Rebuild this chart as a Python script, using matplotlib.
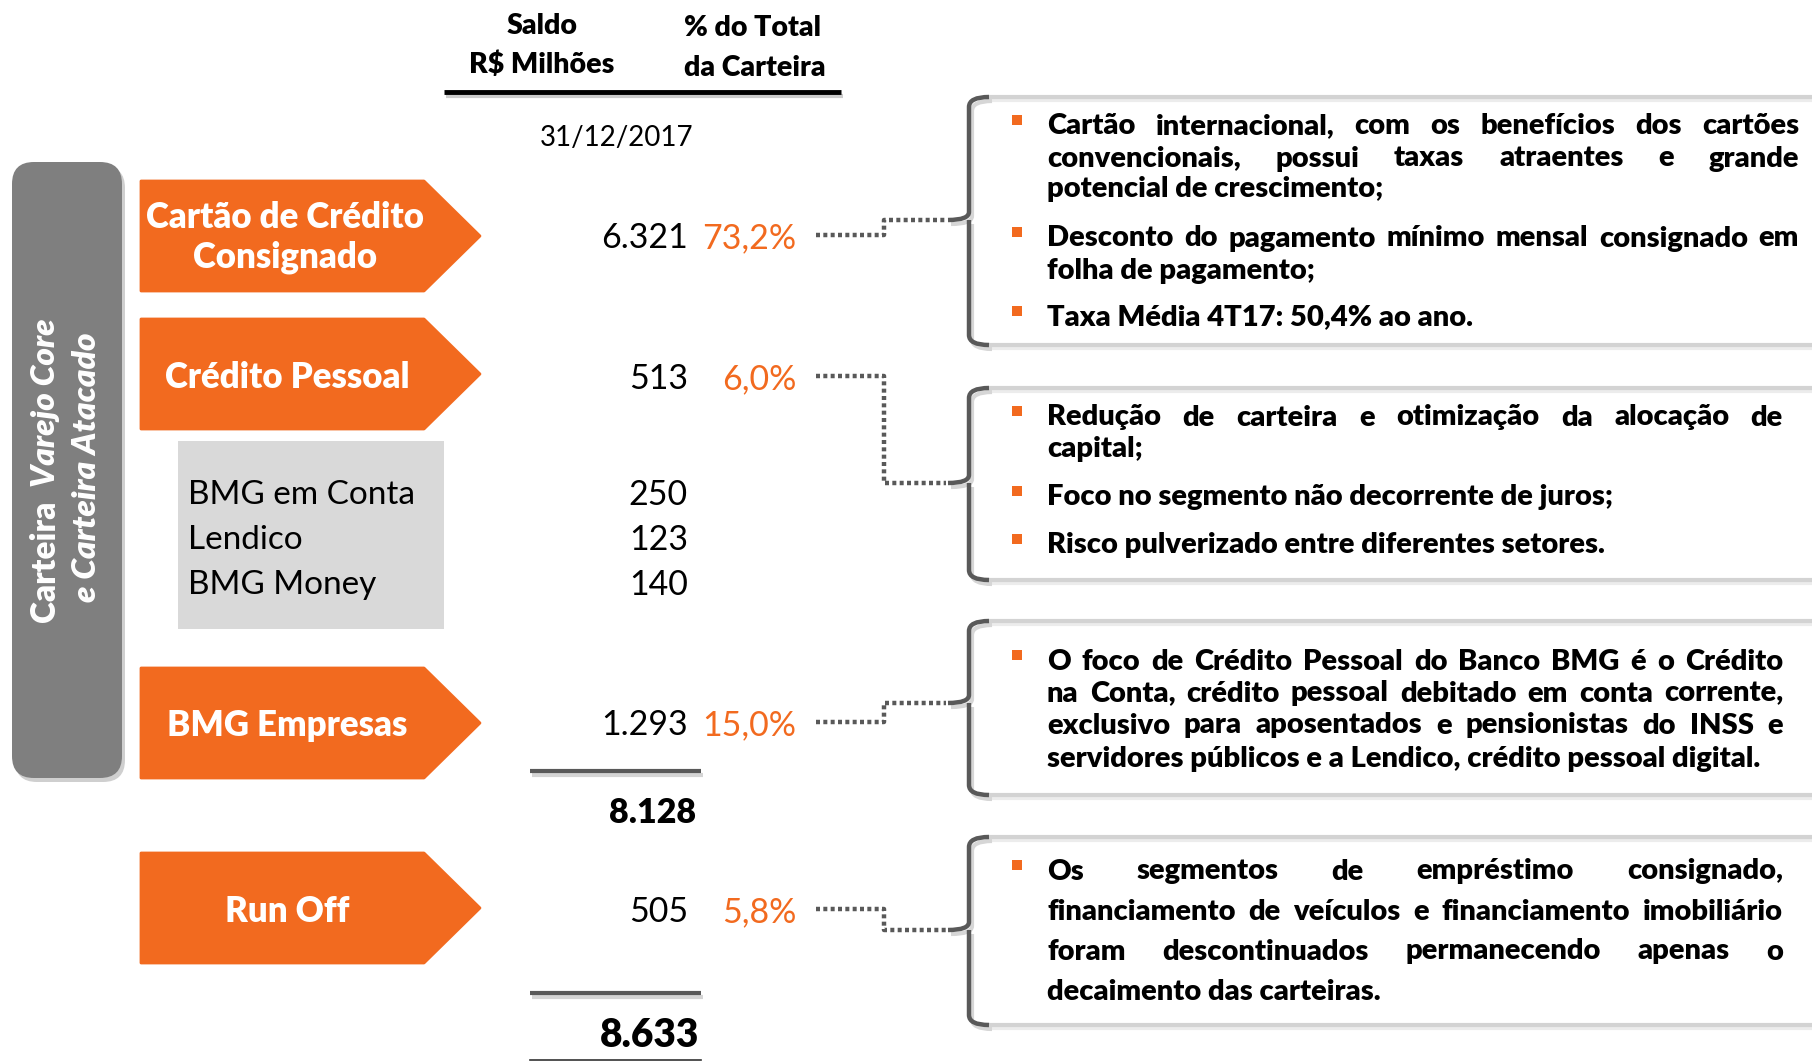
import matplotlib
matplotlib.use("Agg")
import matplotlib.pyplot as plt
from matplotlib.patches import Polygon, FancyBboxPatch, Rectangle, PathPatch
from matplotlib.path import Path

W, H = 1812, 1061
ORANGE = "#F26A1F"
DARK = "#595959"
FONT = "Lato"
BOLD = "heavy"

CATEGORIES = [["Cartão de Crédito", "Consignado"], ["Crédito Pessoal"], ["BMG Empresas"], ["Run Off"]]
SALDO = [6321, 513, 1293, 505]
PCT = [73.2, 6.0, 15.0, 5.8]
SUB_ITEMS = ["BMG em Conta", "Lendico", "BMG Money"]
SUB_SALDO = [250, 123, 140]
SUBTOTAL = 8128
TOTAL = 8633
DATE = "31/12/2017"

NOTES = [
    [
        ["Cartão internacional, com os benefícios dos cartões",
         "convencionais, possui taxas atraentes e grande",
         "potencial de crescimento;"],
        ["Desconto do pagamento mínimo mensal consignado em",
         "folha de pagamento;"],
        ["Taxa Média 4T17: 50,4% ao ano."],
    ],
    [
        ["Redução de carteira e otimização da alocação de",
         "capital;"],
        ["Foco no segmento não decorrente de juros;"],
        ["Risco pulverizado entre diferentes setores."],
    ],
    [
        ["O foco de Crédito Pessoal do Banco BMG é o Crédito",
         "na Conta, crédito pessoal debitado em conta corrente,",
         "exclusivo para aposentados e pensionistas do INSS e",
         "servidores públicos e a Lendico, crédito pessoal digital."],
    ],
    [
        ["Os segmentos de empréstimo consignado,",
         "financiamento de veículos e financiamento imobiliário",
         "foram descontinuados permanecendo apenas o",
         "decaimento das carteiras."],
    ],
]

# layout (pixels, y downwards)
ROW_Y = [235, 376, 722, 909]
ARROW_TOP = [181, 319, 668, 853]
SUB_Y = [492, 537, 582]
BOXES = [(97, 345, 220), (388, 580, 483), (621, 795, 703), (837, 1025, 930)]
LINE_Y = [[124, 156, 187, 236, 268, 315], [415, 447, 495, 543],
          [659, 691, 723, 756], [869, 909, 949, 989]]
TEXT_RIGHT = [1799, 1783, 1783, 1783]


def br(v):
    return f"{v:,}".replace(",", ".")


def pct(v):
    return f"{v:.1f}%".replace(".", ",")


def add_arrow(ax, top, height=110, x0=141, shoulder=424, tip=480):
    pts = [(x0, top), (shoulder, top), (tip, top + height / 2), (shoulder, top + height), (x0, top + height)]
    ax.add_patch(Polygon(pts, closed=True, facecolor=ORANGE, edgecolor=ORANGE, lw=2, joinstyle="round", zorder=2))


def add_brace(ax, top, bottom, mid, x=969, x_end=989, nub=948):
    verts = [
        (x_end, top), (x, top), (x, top + 10),
        (x, mid - 8), (x, mid), (nub, mid),
        (x, mid), (x, mid + 8),
        (x, bottom - 10), (x, bottom), (x_end, bottom),
    ]
    codes = [Path.MOVETO, Path.CURVE3, Path.CURVE3,
             Path.LINETO, Path.CURVE3, Path.CURVE3,
             Path.MOVETO, Path.LINETO,
             Path.LINETO, Path.CURVE3, Path.CURVE3]
    shadow = [(vx + 3, vy + 4) for vx, vy in verts]
    ax.add_patch(PathPatch(Path(shadow, codes), fill=False, ec="#d6d6d6", lw=3, capstyle="butt", zorder=2))
    ax.add_patch(PathPatch(Path(verts, codes), fill=False, ec=DARK, lw=3.2, capstyle="butt", joinstyle="round", zorder=3))


def draw_line(ax, renderer, text, x0, x1, y, justify, **kw):
    if not justify or " " not in text:
        ax.text(x0, y, text, ha="left", va="center_baseline", **kw)
        return
    words = text.split()
    items = [ax.text(0, y, w, ha="left", va="center_baseline", **kw) for w in words]
    widths = [t.get_window_extent(renderer).width for t in items]
    gap = (x1 - x0 - sum(widths)) / (len(words) - 1)
    x = x0
    for t, w in zip(items, widths):
        t.set_x(x)
        x += w + gap


fig = plt.figure(figsize=(W / 100, H / 100), dpi=100)
ax = fig.add_axes([0, 0, 1, 1])
ax.set_xlim(0, W)
ax.set_ylim(H, 0)
ax.axis("off")
renderer = fig.canvas.get_renderer()

# left vertical box
ax.add_patch(FancyBboxPatch((15, 166), 110, 616, boxstyle="round,pad=0,rounding_size=22",
                            fc="#cfcfcf", ec="none", zorder=1))
ax.add_patch(FancyBboxPatch((12, 162), 110, 616, boxstyle="round,pad=0,rounding_size=22",
                            fc="#7F7F7F", ec="none", zorder=2))
vkw = dict(rotation=90, rotation_mode="anchor", ha="left", va="center", color="white",
           fontsize=24, fontweight=BOLD, family=FONT, zorder=3)
t1 = ax.text(45, 0, "Carteira", **vkw)
t2 = ax.text(45, 0, "Varejo Core", style="italic", **vkw)
h1 = t1.get_window_extent(renderer).height
h2 = t2.get_window_extent(renderer).height
start = 470 + (h1 + 14 + h2) / 2
t1.set_y(start)
t2.set_y(start - h1 - 14)
ax.text(87, 467, "e Carteira Atacado", rotation=90, rotation_mode="anchor", ha="center", va="center",
        color="white", fontsize=24, fontweight=BOLD, family=FONT, style="italic", zorder=3)

# header
hkw = dict(ha="center", va="center_baseline", fontsize=20.5, fontweight=BOLD, family=FONT)
ax.text(542, 23, "Saldo", **hkw)
ax.text(542, 62, "R$ Milhões", **hkw)
ax.text(752, 25, "% do Total", **hkw)
ax.text(755, 65, "da Carteira", **hkw)
ax.plot([446, 843], [96, 96], color="#cccccc", lw=3, solid_capstyle="butt")
ax.plot([444, 841], [92, 92], color="black", lw=3.5, solid_capstyle="butt")
ax.text(617, 136, DATE, ha="center", va="center_baseline", fontsize=20, family=FONT)

# category arrows, values and connectors
lkw = dict(ha="center", va="center_baseline", color="white", fontsize=25, fontweight=BOLD,
           family=FONT, zorder=3)
for i, (label, top, y) in enumerate(zip(CATEGORIES, ARROW_TOP, ROW_Y)):
    add_arrow(ax, top)
    if len(label) == 2:
        ax.text(285, 215, label[0], **lkw)
        ax.text(285, 254, label[1], **lkw)
    else:
        ax.text(287, top + 55, label[0], **lkw)
    ax.text(688, y, br(SALDO[i]), ha="right", va="center_baseline", fontsize=24.5, family=FONT)
    ax.text(796, y, pct(PCT[i]), ha="right", va="center_baseline", fontsize=24.5, family=FONT, color=ORANGE)
    mid = BOXES[i][2]
    ax.plot([816, 884, 884, 946], [y, y, mid, mid], color=DARK, lw=3.2,
            linestyle=(0, (0.9, 0.75)), dash_capstyle="butt", zorder=2)

# sub items box
ax.add_patch(Rectangle((178, 441), 266, 188, fc="#D9D9D9", ec="none", zorder=1))
for name, v, y in zip(SUB_ITEMS, SUB_SALDO, SUB_Y):
    ax.text(188, y, name, ha="left", va="center_baseline", fontsize=24, family=FONT)
    ax.text(688, y, br(v), ha="right", va="center_baseline", fontsize=24.5, family=FONT)

# totals
for ly in (771, 993):
    ax.plot([532, 703], [ly + 4, ly + 4], color="#d4d4d4", lw=3, solid_capstyle="butt")
    ax.plot([530, 701], [ly, ly], color=DARK, lw=3, solid_capstyle="butt")
ax.plot([530, 701], [1060, 1060], color="#333333", lw=1.2)
ax.text(696, 810, br(SUBTOTAL), ha="right", va="center_baseline", fontsize=24.5, fontweight=BOLD, family=FONT)
ax.text(699, 1032, br(TOTAL), ha="right", va="center_baseline", fontsize=28, fontweight=BOLD, family=FONT)

# note boxes
for (top, bottom, mid), paragraphs, ys, right in zip(BOXES, NOTES, LINE_Y, TEXT_RIGHT):
    for by in (top, bottom):
        ax.plot([990, W], [by + 3, by + 3], color="#ececec", lw=3, solid_capstyle="butt")
        ax.plot([988, W], [by, by], color="#d3d3d3", lw=3, solid_capstyle="butt")
    add_brace(ax, top, bottom, mid)
    k = 0
    for para in paragraphs:
        ax.add_patch(Rectangle((1012, ys[k] - 9), 10, 10, fc=ORANGE, ec="none"))
        for j, line in enumerate(para):
            draw_line(ax, renderer, line, 1047, right, ys[k], j < len(para) - 1,
                      fontsize=21, fontweight=BOLD, family=FONT)
            k += 1

fig.savefig("out.png", dpi=100, facecolor="white")
